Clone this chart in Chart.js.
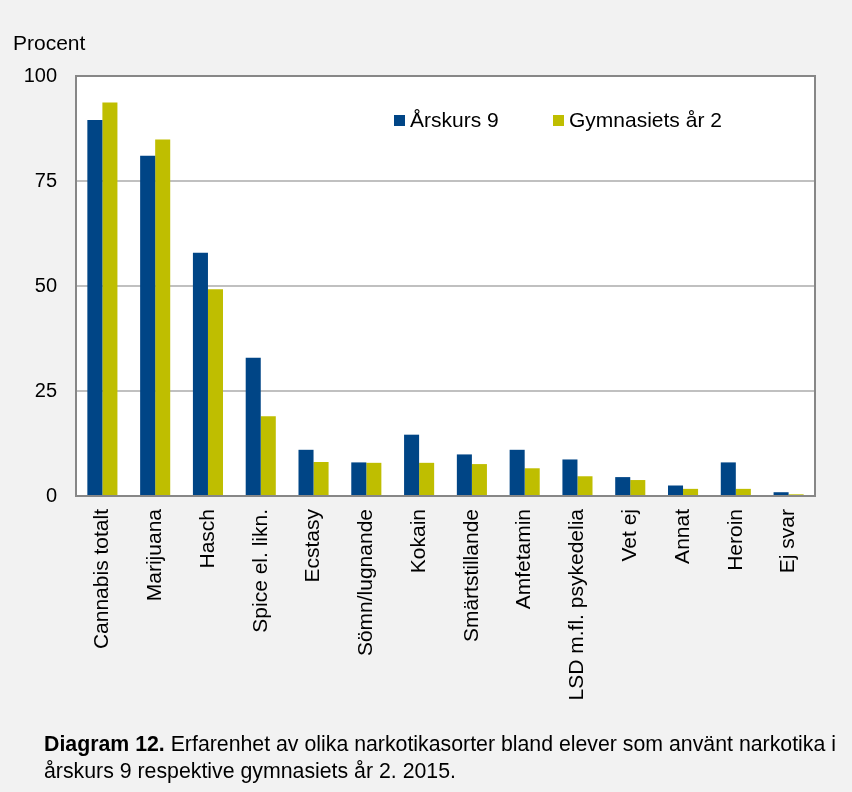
<!DOCTYPE html>
<html lang="sv">
<head>
<meta charset="utf-8">
<title>Diagram 12</title>
<script src="https://cdn.jsdelivr.net/npm/chart.js@4.4.1/dist/chart.umd.min.js"></script>
<style>
    html, body {
        margin: 0;
        padding: 0;
        background: #f2f2f2;
    }
    #wrap {
        position: relative;
        width: 852px;
        height: 792px;
    }
    #caption {
        position: absolute;
        left: 44px;
        top: 731px;
        width: 805px;
        font-family: "Liberation Sans", Arial, sans-serif;
        font-size: 21.3px;
        line-height: 27px;
        color: #000;
    }
</style>
</head>
<body>
<div id="wrap">
    <canvas id="drugChart" width="852" height="792"></canvas>
    <div id="caption"><b>Diagram 12.</b> Erfarenhet av olika narkotikasorter bland elever som använt narkotika i årskurs 9 respektive gymnasiets år 2. 2015.</div>
</div>
<script>
    const categories = [
        'Cannabis totalt', 'Marijuana', 'Hasch', 'Spice el. likn.', 'Ecstasy',
        'Sömn/lugnande', 'Kokain', 'Smärtstillande', 'Amfetamin',
        'LSD m.fl. psykedelia', 'Vet ej', 'Annat', 'Heroin', 'Ej svar'
    ];
    const seriesNames = ['Årskurs 9', 'Gymnasiets år 2'];
    const arskurs9 = [89.5, 81.0, 57.9, 32.9, 11.0, 8.0, 14.6, 9.9, 11.0, 8.7, 4.5, 2.5, 8.0, 0.9];
    const gymnasiet2 = [93.7, 84.9, 49.2, 19.0, 8.1, 7.9, 7.9, 7.6, 6.6, 4.7, 3.8, 1.7, 1.7, 0.4];
    const yTicks = [0, 25, 50, 75, 100];

    const BLUE = '#004586';
    const YELLOW = '#bfbe00';
    const FONT = "'Liberation Sans', Arial, sans-serif";

    // white plot area, gray frame, y-axis title and inner legend
    const framePlugin = {
        id: 'frame',
        beforeDraw(chart) {
            const { ctx, chartArea: a } = chart;
            ctx.save();
            ctx.fillStyle = '#ffffff';
            ctx.fillRect(a.left, a.top, a.right - a.left, a.bottom - a.top);
            ctx.restore();
        },
        afterDraw(chart) {
            const { ctx, chartArea: a } = chart;
            ctx.save();
            ctx.strokeStyle = '#878787';
            ctx.lineWidth = 2;
            ctx.strokeRect(a.left, a.top, a.right - a.left, a.bottom - a.top);

            ctx.fillStyle = '#000';
            ctx.font = '21px ' + FONT;
            ctx.textBaseline = 'alphabetic';
            ctx.textAlign = 'left';
            ctx.fillText('Procent', 13, 50);

            // legend
            const items = [
                { x: a.left + 318, color: BLUE, text: chart.data.datasets[0].label },
                { x: a.left + 477, color: YELLOW, text: chart.data.datasets[1].label }
            ];
            items.forEach(function (it) {
                ctx.fillStyle = it.color;
                ctx.fillRect(it.x, 115, 11, 11);
                ctx.fillStyle = '#000';
                ctx.fillText(it.text, it.x + 16, 127);
            });
            ctx.restore();
        }
    };

    new Chart(document.getElementById('drugChart'), {
        type: 'bar',
        data: {
            labels: categories,
            datasets: [{
                label: seriesNames[0],
                data: arskurs9,
                backgroundColor: BLUE
            }, {
                label: seriesNames[1],
                data: gymnasiet2,
                backgroundColor: YELLOW
            }]
        },
        options: {
            responsive: false,
            animation: false,
            devicePixelRatio: 1,
            layout: {
                padding: { left: 0, right: 37, top: 76, bottom: 0 }
            },
            datasets: {
                bar: {
                    categoryPercentage: 0.57,
                    barPercentage: 1.0
                }
            },
            plugins: {
                legend: { display: false },
                tooltip: { enabled: false }
            },
            scales: {
                x: {
                    afterFit(scale) { scale.height = 296; },
                    grid: { display: false, drawTicks: false },
                    border: { display: false },
                    ticks: {
                        autoSkip: false,
                        minRotation: 90,
                        maxRotation: 90,
                        padding: 13,
                        color: '#000',
                        font: { family: FONT, size: 21 }
                    }
                },
                y: {
                    min: 0,
                    max: 100,
                    afterFit(scale) { scale.width = 76; },
                    afterBuildTicks(scale) {
                        scale.ticks = yTicks.map(function (v) { return { value: v }; });
                    },
                    grid: {
                        color: '#c0c0c0',
                        lineWidth: 2,
                        drawTicks: false
                    },
                    border: { display: false },
                    ticks: {
                        padding: 19,
                        color: '#000',
                        font: { family: FONT, size: 20 }
                    }
                }
            }
        },
        plugins: [framePlugin]
    });
</script>
</body>
</html>
